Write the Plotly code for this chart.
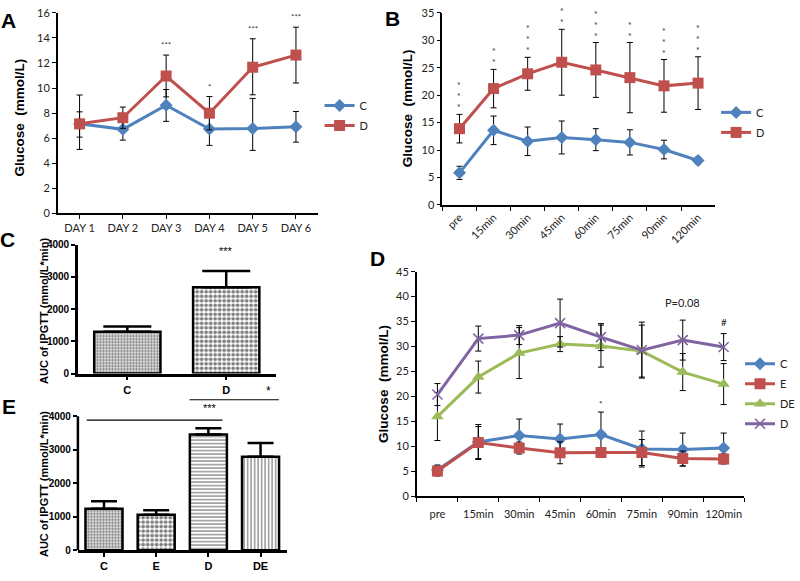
import plotly.graph_objects as go

W, H = 800, 581

# ---------------- data ----------------
days = ["DAY 1", "DAY 2", "DAY 3", "DAY 4", "DAY 5", "DAY 6"]
a_C = [7.15, 6.70, 8.62, 6.72, 6.77, 6.90]
a_C_up = [0.95, 0.86, 1.26, 1.30, 2.40, 1.23]
a_C_dn = [1.07, 0.86, 1.28, 1.30, 1.75, 1.22]
a_D = [7.14, 7.63, 10.96, 7.99, 11.66, 12.63]
a_D_up = [2.30, 0.85, 1.67, 1.33, 2.27, 2.23]
a_D_dn = [2.04, 0.85, 1.67, 1.33, 2.20, 2.23]
a_sig = ["", "", "***", "*", "***", "***"]

times = ["pre", "15min", "30min", "45min", "60min", "75min", "90min", "120min"]
b_C = [5.85, 13.6, 11.6, 12.3, 11.9, 11.4, 10.1, 8.1]
b_C_err = [1.2, 2.6, 2.6, 3.0, 2.0, 2.3, 1.7, 0.6]
b_D = [13.9, 21.2, 23.9, 26.0, 24.6, 23.2, 21.7, 22.2]
b_D_err = [2.6, 3.5, 3.0, 6.0, 5.0, 6.4, 4.8, 4.8]
b_sig = [3, 2, 3, 2, 3, 2, 3, 3]

c_groups = ["C", "D"]
c_auc = [1300, 2680]
c_err = [160, 500]

d_C = [5.3, 10.9, 12.2, 11.5, 12.4, 9.5, 9.4, 9.7]
d_C_err = [1.0, 3.5, 3.3, 3.0, 4.5, 3.6, 3.3, 3.0]
d_E = [5.1, 10.8, 9.7, 8.75, 8.8, 8.8, 7.6, 7.5]
d_E_err = [1.0, 3.2, 1.2, 2.2, 1.0, 2.6, 1.5, 1.0]
d_DE = [16.0, 23.9, 28.7, 30.5, 30.1, 29.1, 24.9, 22.5]
d_DE_err = [4.8, 3.2, 5.1, 1.5, 4.2, 5.2, 3.7, 4.1]
d_D = [20.4, 31.6, 32.3, 34.7, 31.9, 29.3, 31.3, 29.9]
d_D_err = [2.2, 2.5, 1.9, 4.8, 2.7, 5.6, 4.0, 2.7]

e_groups = ["C", "E", "D", "DE"]
e_auc = [1240, 1060, 3450, 2790]
e_err = [220, 130, 190, 410]

# ---------------- styles ----------------
BLUE, RED, GREEN, PURPLE = "#4F81BD", "#C0504D", "#9BBB59", "#8064A2"
XL_FONT = "Lato, Open Sans, sans-serif"
GP_FONT = "Liberation Sans, Arial, sans-serif"


def xd(a, b):
    return [a / W, b / W]


def yd(top, bottom):
    return [1 - bottom / H, 1 - top / H]


fig = go.Figure()


def line_trace(x, y, err, name, color, symbol, size, xa, ya, legend, showlegend=True, errminus=None):
    ey = dict(type="data", array=err, color="black", thickness=1, width=3, visible=True)
    if errminus is not None:
        ey["symmetric"] = False
        ey["arrayminus"] = errminus
    mk = dict(symbol=symbol, size=size, color=color)
    if symbol.startswith("x"):
        mk["line"] = dict(color=color, width=1.5)
    fig.add_trace(go.Scatter(
        x=x, y=y, name=name, mode="lines+markers",
        line=dict(color=color, width=3), marker=mk,
        error_y=ey, xaxis=xa, yaxis=ya, legend=legend,
        showlegend=showlegend, legendgroup=legend + name, cliponaxis=False))


# Panel A
line_trace(days, a_C, a_C_up, "C", BLUE, "diamond", 10, "x", "y", "legend", errminus=a_C_dn)
line_trace(days, a_D, a_D_up, "D", RED, "square", 11, "x", "y", "legend", errminus=a_D_dn)
# Panel B
line_trace(times, b_C, b_C_err, "C", BLUE, "diamond", 10, "x2", "y2", "legend2")
line_trace(times, b_D, b_D_err, "D", RED, "square", 11, "x2", "y2", "legend2")
# Panel D
line_trace(times, d_C, d_C_err, "C", BLUE, "diamond", 10, "x4", "y4", "legend3")
line_trace(times, d_E, d_E_err, "E", RED, "square", 11, "x4", "y4", "legend3")
line_trace(times, d_DE, d_DE_err, "DE", GREEN, "triangle-up", 11, "x4", "y4", "legend3")
line_trace(times, d_D, d_D_err, "D", PURPLE, "x-thin", 10, "x4", "y4", "legend3")

# Panel C bars
c_patterns = [dict(shape=".", size=3, solidity=0.55, fgcolor="black", bgcolor="white"),
              dict(shape=".", size=4.5, solidity=0.55, fgcolor="black", bgcolor="white")]
for g, v, e, p in zip(c_groups, c_auc, c_err, c_patterns):
    fig.add_trace(go.Bar(
        x=[g], y=[v], xaxis="x3", yaxis="y3", showlegend=False, width=0.67,
        marker=dict(color="white", pattern=p, line=dict(color="black", width=2.5)),
        error_y=dict(type="data", array=[e], arrayminus=[0], symmetric=False,
                     color="black", thickness=2.5, width=24)))

# Panel E bars
e_patterns = [dict(shape=".", size=3, solidity=0.55, fgcolor="black", bgcolor="white"),
              dict(shape=".", size=4.5, solidity=0.55, fgcolor="black", bgcolor="white"),
              dict(shape="-", size=3.5, solidity=0.35, fgcolor="black", bgcolor="white"),
              dict(shape="|", size=3.5, solidity=0.35, fgcolor="black", bgcolor="white")]
for g, v, e, p in zip(e_groups, e_auc, e_err, e_patterns):
    fig.add_trace(go.Bar(
        x=[g], y=[v], xaxis="x5", yaxis="y5", showlegend=False, width=0.71,
        marker=dict(color="white", pattern=p, line=dict(color="black", width=2.5)),
        error_y=dict(type="data", array=[e], arrayminus=[0], symmetric=False,
                     color="black", thickness=2.5, width=13)))

# ---------------- axes ----------------
xl_tick = dict(family=XL_FONT, size=11, color="#222")
gp_tick = dict(family=GP_FONT, size=11, color="black", weight="bold")

xl_axis = dict(showline=True, linecolor="black", linewidth=1.8, ticks="outside",
               ticklen=4, tickcolor="black", tickwidth=1.2, showgrid=False,
               zeroline=False, tickfont=xl_tick, fixedrange=True)
gp_axis = dict(showline=True, linecolor="black", linewidth=2.5, ticks="outside",
               ticklen=4, tickcolor="black", tickwidth=2.2, showgrid=False,
               zeroline=False, tickfont=gp_tick, fixedrange=True)

fig.update_layout(
    xaxis=dict(xl_axis, domain=xd(58, 318), anchor="y", type="category", range=[-0.5, 5.5]),
    yaxis=dict(xl_axis, domain=yd(6, 211), anchor="x", range=[0, 16], dtick=2),
    xaxis2=dict(xl_axis, domain=xd(443, 716), anchor="y2", type="category", range=[-0.5, 7.5],
                tickson="boundaries", tickangle=-45),
    yaxis2=dict(xl_axis, domain=yd(6, 202.5), anchor="x2", range=[0, 35], dtick=5),
    xaxis3=dict(gp_axis, domain=xd(78, 276), anchor="y3", type="category", range=[-0.5, 1.5]),
    yaxis3=dict(gp_axis, domain=yd(243, 375), anchor="x3", range=[0, 4000], dtick=1000,
                tickfont=dict(family=GP_FONT, size=10, color="black", weight="bold")),
    xaxis4=dict(xl_axis, domain=xd(417.5, 745), anchor="y4", type="category", range=[-0.5, 7.5],
                tickson="boundaries", tickangle=0, ticklabelstandoff=6),
    yaxis4=dict(xl_axis, domain=yd(270.7, 500.7), anchor="x4", range=[0, 45], dtick=5),
    xaxis5=dict(gp_axis, domain=xd(78, 287), anchor="y5", type="category", range=[-0.5, 3.5]),
    yaxis5=dict(gp_axis, domain=yd(391.1, 555.7), anchor="x5", range=[0, 4800],
                tickvals=[0, 1000, 2000, 3000, 4000], showline=False,
                tickfont=dict(family=GP_FONT, size=10, color="black", weight="bold")),
)

# E y-axis line only up to 4000
fig.add_shape(type="line", xref="x5 domain", yref="y5", x0=0, x1=0, y0=0, y1=4000,
              line=dict(color="black", width=2.5))
# significance brackets in E
fig.add_shape(type="line", xref="x5", yref="y5", x0=-0.33, x1=2.27, y0=3880, y1=3880,
              line=dict(color="black", width=1.2))
fig.add_shape(type="line", xref="x5", yref="y5", x0=1.64, x1=3.35, y0=4490, y1=4490,
              line=dict(color="black", width=1.2))

ann = []


def paper_text(txt, x, y, size, angle=0, family=GP_FONT, weight="bold"):
    ann.append(dict(text=txt, x=x / W, y=1 - y / H, xref="paper", yref="paper", textangle=angle,
                    xanchor="center", yanchor="middle", showarrow=False,
                    font=dict(family=family, size=size, color="black", weight=weight)))


# axis titles
paper_text("Glucose  (mmol/L)", 19, 113, 13.5, -90)
paper_text("Glucose  (mmol/L)", 408, 103, 13.5, -90)
paper_text("Glucose  (mmol/L)", 384, 386, 13.5, -90)
paper_text("AUC of IPGTT (mmol/L*min)", 44, 311, 11, -90)
paper_text("AUC of IPGTT (mmol/L*min)", 44, 488, 11, -90)
# panel letters
for txt, x, y in [("A", 9, 14), ("B", 393, 12), ("C", 8, 238), ("D", 378, 257), ("E", 9, 409)]:
    paper_text(txt, x, y, 21)

# stars panel A
for d, v, e, s in zip(days, a_D, a_D_up, a_sig):
    if s:
        ann.append(dict(text=s, x=d, y=v + e, xref="x", yref="y", yanchor="bottom", yshift=3,
                        showarrow=False, font=dict(family=XL_FONT, size=8, color="#333")))
# stars panel B (vertical stacks)
for t, v, e, n in zip(times, b_D, b_D_err, b_sig):
    ann.append(dict(text="<br>".join(["*"] * n), x=t, y=v + e, xref="x2", yref="y2",
                    yanchor="bottom", yshift=-1, showarrow=False,
                    font=dict(family=XL_FONT, size=8.5, color="#333")))
# panel C star
ann.append(dict(text="***", x="D", y=c_auc[1] + c_err[1], xref="x3", yref="y3", yanchor="bottom",
                yshift=12, showarrow=False, font=dict(family=GP_FONT, size=11, color="black")))
# panel D notes
ann.append(dict(text="P=0.08", x="90min", y=38.9, xref="x4", yref="y4", showarrow=False,
                font=dict(family=XL_FONT, size=11, color="#222")))
ann.append(dict(text="#", x="120min", y=d_D[7] + d_D_err[7], xref="x4", yref="y4", yanchor="bottom",
                yshift=4, showarrow=False, font=dict(family=XL_FONT, size=10, color="#222")))
ann.append(dict(text="*", x="60min", y=d_C[4] + d_C_err[4], xref="x4", yref="y4", yanchor="bottom",
                yshift=1, showarrow=False, font=dict(family=XL_FONT, size=8, color="#222")))
# panel E stars
ann.append(dict(text="***", x=2.03, y=4250, xref="x5", yref="y5", showarrow=False,
                font=dict(family=GP_FONT, size=11, color="black")))
ann.append(dict(text="*", x=3.16, y=4760, xref="x5", yref="y5", showarrow=False,
                font=dict(family=GP_FONT, size=12, color="black")))

leg_common = dict(xanchor="left", yanchor="top", bgcolor="rgba(0,0,0,0)", borderwidth=0,
                  font=dict(family=XL_FONT, size=11, color="#222"), itemwidth=30,
                  tracegroupgap=1, traceorder="grouped")
fig.update_layout(
    legend=dict(leg_common, x=320 / W, y=1 - 86 / H),
    legend2=dict(leg_common, x=717 / W, y=1 - 93 / H),
    legend3=dict(leg_common, x=741 / W, y=1 - 350 / H),
    annotations=ann,
    width=W, height=H, margin=dict(l=0, r=0, t=0, b=0),
    paper_bgcolor="white", plot_bgcolor="white",
    bargap=0.3,
)

fig.write_html("out.html", config={"displayModeBar": False},
               post_script="document.body.style.margin='0';document.body.style.overflow='hidden';")
